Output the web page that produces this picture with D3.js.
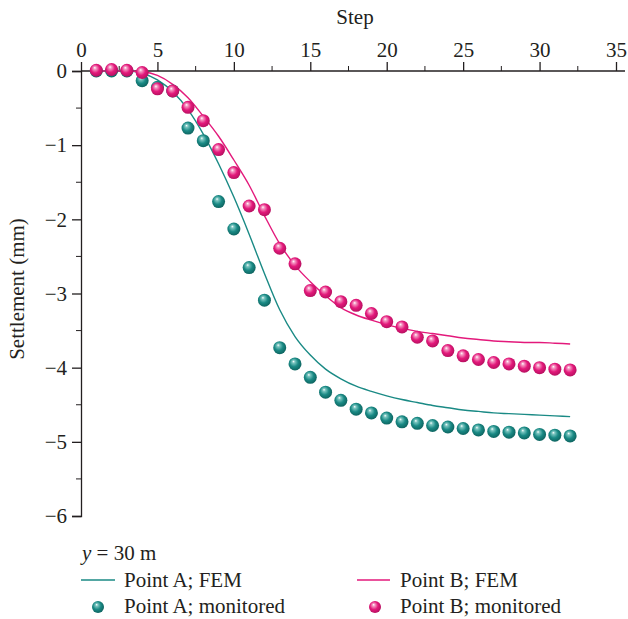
<!DOCTYPE html>
<html>
<head>
<meta charset="utf-8">
<script src="https://cdn.jsdelivr.net/npm/d3@7"></script>
<style>
  body { margin: 0; background: #fff; }
  svg text { font-family: "Liberation Serif", "DejaVu Serif", serif; fill: #231f20; }
</style>
</head>
<body>
<svg id="chart" width="628" height="619"></svg>
<script>
// steps 1..32
var steps = d3.range(1, 33);

var monitoredA = [0, 0, 0, -0.13, -0.22, -0.27, -0.77, -0.94, -1.76, -2.13, -2.65, -3.09,
  -3.73, -3.95, -4.13, -4.33, -4.44, -4.56, -4.61, -4.68, -4.73, -4.75, -4.78, -4.80,
  -4.82, -4.84, -4.86, -4.87, -4.88, -4.90, -4.91, -4.92];

var monitoredB = [0.01, 0.02, 0.01, -0.02, -0.24, -0.27, -0.49, -0.67, -1.06, -1.37, -1.82, -1.87,
  -2.39, -2.60, -2.96, -2.98, -3.11, -3.16, -3.27, -3.38, -3.45, -3.59, -3.64, -3.77,
  -3.84, -3.89, -3.93, -3.95, -3.98, -4.00, -4.02, -4.03];

var femA = [0, 0, 0, -0.03, -0.12, -0.28, -0.52, -0.85, -1.25, -1.70, -2.20, -2.73,
  -3.22, -3.58, -3.83, -4.02, -4.15, -4.25, -4.32, -4.38, -4.43, -4.47, -4.51, -4.54,
  -4.57, -4.59, -4.61, -4.62, -4.63, -4.64, -4.65, -4.66];

var femB = [0, 0, 0, -0.01, -0.06, -0.18, -0.36, -0.61, -0.88, -1.20, -1.54, -1.95,
  -2.33, -2.62, -2.84, -3.03, -3.19, -3.29, -3.36, -3.42, -3.47, -3.51, -3.54, -3.57,
  -3.60, -3.62, -3.64, -3.65, -3.66, -3.66, -3.67, -3.68];

var xTicks = [0, 5, 10, 15, 20, 25, 30, 35];
var yTicks = [0, -1, -2, -3, -4, -5, -6];

var tealColor = "#1a8a85";
var pinkColor = "#e3197b";
var fontSize = "21px";

var svg = d3.select("#chart");

var x = d3.scaleLinear().domain([0, 35]).range([81, 616]);
var y = d3.scaleLinear().domain([0, -6]).range([71, 516]);

// sphere gradients
var defs = svg.append("defs");
function sphere(id, light, mid, dark) {
  var g = defs.append("radialGradient").attr("id", id)
    .attr("cx", "45%").attr("cy", "45%").attr("r", "60%")
    .attr("fx", "38%").attr("fy", "30%");
  g.append("stop").attr("offset", "0%").attr("stop-color", "#ffffff");
  g.append("stop").attr("offset", "18%").attr("stop-color", light);
  g.append("stop").attr("offset", "55%").attr("stop-color", mid);
  g.append("stop").attr("offset", "100%").attr("stop-color", dark);
}
sphere("ballA", "#7cc6c1", tealColor, "#0c5f5b");
sphere("ballB", "#f59ac4", pinkColor, "#b00f5c");

// top axis
var xAxis = d3.axisTop(x).tickValues(xTicks).tickSize(9).tickPadding(5).tickFormat(d3.format("d"));
var gx = svg.append("g").attr("transform", "translate(0," + y(0) + ")").call(xAxis);
gx.select(".domain").attr("d", "M" + x(0) + ",0H" + (x(35) + 9));
// minor x ticks
gx.selectAll(".minor").data(d3.range(2.5, 35, 5)).enter().append("line")
  .attr("x1", function (d) { return x(d); }).attr("x2", function (d) { return x(d); })
  .attr("y1", 0).attr("y2", -5).attr("stroke", "#231f20");

// left axis
var yAxis = d3.axisLeft(y).tickValues(yTicks).tickSize(9).tickPadding(5)
  .tickFormat(function (d) { return d === 0 ? "0" : "\u2212" + Math.abs(d); });
var gy = svg.append("g").attr("transform", "translate(" + x(0) + ",0)").call(yAxis);
gy.selectAll(".minorY").data(d3.range(-0.5, -6, -1)).enter().append("line")
  .attr("x1", 0).attr("x2", -5)
  .attr("y1", function (d) { return y(d); }).attr("y2", function (d) { return y(d); })
  .attr("stroke", "#231f20");

svg.selectAll(".domain, .tick line").attr("stroke", "#231f20").attr("stroke-width", 1.3);
svg.selectAll(".tick text").style("font-size", fontSize).attr("fill", "#231f20");

// axis titles
svg.append("text").attr("x", 355).attr("y", 24).attr("text-anchor", "middle")
  .style("font-size", fontSize).text("Step");
svg.append("text").attr("transform", "translate(24,289) rotate(-90)").attr("text-anchor", "middle")
  .style("font-size", fontSize).text("Settlement (mm)");

// FEM lines
var line = d3.line()
  .x(function (d, i) { return x(steps[i]); })
  .y(function (d) { return y(d); })
  .curve(d3.curveMonotoneX);

svg.append("path").datum(femA).attr("d", line)
  .attr("fill", "none").attr("stroke", tealColor).attr("stroke-width", 1.4);
svg.append("path").datum(femB).attr("d", line)
  .attr("fill", "none").attr("stroke", pinkColor).attr("stroke-width", 1.4);

// monitored points
svg.append("g").selectAll("circle").data(monitoredA).enter().append("circle")
  .attr("cx", function (d, i) { return x(steps[i]); })
  .attr("cy", function (d) { return y(d); })
  .attr("r", 6.5).attr("fill", "url(#ballA)");
svg.append("g").selectAll("circle").data(monitoredB).enter().append("circle")
  .attr("cx", function (d, i) { return x(steps[i]); })
  .attr("cy", function (d) { return y(d); })
  .attr("r", 6.5).attr("fill", "url(#ballB)");

// legend
var leg = svg.append("g");
var title = leg.append("text").attr("x", 82).attr("y", 560).style("font-size", fontSize);
title.append("tspan").style("font-style", "italic").text("y");
title.append("tspan").text(" = 30 m");

leg.append("line").attr("x1", 81).attr("x2", 115).attr("y1", 580).attr("y2", 580)
  .attr("stroke", tealColor).attr("stroke-width", 1.4);
leg.append("text").attr("x", 124).attr("y", 587).style("font-size", fontSize).text("Point A; FEM");
leg.append("line").attr("x1", 357).attr("x2", 390).attr("y1", 580).attr("y2", 580)
  .attr("stroke", pinkColor).attr("stroke-width", 1.4);
leg.append("text").attr("x", 400).attr("y", 587).style("font-size", fontSize).text("Point B; FEM");

leg.append("circle").attr("cx", 98).attr("cy", 607).attr("r", 6).attr("fill", "url(#ballA)");
leg.append("text").attr("x", 124).attr("y", 613).style("font-size", fontSize).text("Point A; monitored");
leg.append("circle").attr("cx", 375).attr("cy", 607).attr("r", 6).attr("fill", "url(#ballB)");
leg.append("text").attr("x", 400).attr("y", 613).style("font-size", fontSize).text("Point B; monitored");
</script>
</body>
</html>
